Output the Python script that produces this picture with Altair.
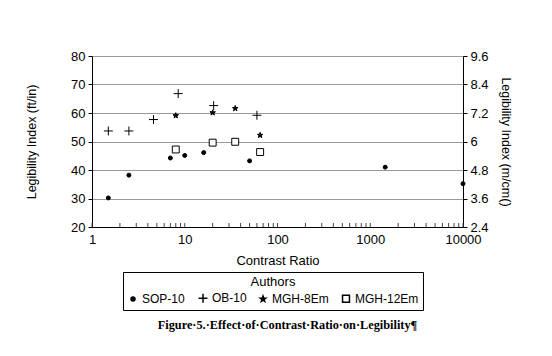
import altair as alt
import pandas as pd

# ---- data ----
sop_x = [1.5, 2.5, 7, 10, 16, 50, 1450, 10000]
sop_y = [30.2, 38.2, 44.2, 45.1, 46.1, 43.2, 41.0, 35.2]

ob_x = [1.5, 2.5, 4.6, 8.5, 20.5, 60]
ob_y = [53.7, 53.7, 57.7, 66.8, 62.6, 59.2]

m8_x = [8, 20, 35, 65]
m8_y = [59.1, 60.1, 61.6, 52.2]

m12_x = [8, 20, 35, 65]
m12_y = [47.2, 49.6, 49.9, 46.3]

authors = ["SOP-10", "OB-10", "MGH-8Em", "MGH-12Em"]
left_ticks = [20, 30, 40, 50, 60, 70, 80]
metric_factor = 0.12  # right axis: 20 -> 2.4 ... 80 -> 9.6
x_labels = [1, 10, 100, 1000, 10000]
minor_ticks = [m * d for d in [1, 10, 100, 1000] for m in range(1, 10)] + [10000]

rows = []
for name, xs, ys in [("SOP-10", sop_x, sop_y), ("OB-10", ob_x, ob_y),
                     ("MGH-8Em", m8_x, m8_y), ("MGH-12Em", m12_x, m12_y)]:
    for a, b in zip(xs, ys):
        rows.append({"Authors": name, "ratio": a, "li": b})
df = pd.DataFrame(rows)
ticks_df = pd.DataFrame({"t": minor_ticks})
right_df = pd.DataFrame({"t": [1, 10000], "li": [20, 80]})

W, H = 371, 171
FONT = "Liberation Sans"

xscale = alt.Scale(type="log", domain=[1, 10000], nice=False)
yscale = alt.Scale(domain=[20, 80], nice=False, zero=False)
xaxis = alt.Axis(values=x_labels, format="d", title="Contrast Ratio", orient="bottom",
                 tickSize=0, labelPadding=6, titlePadding=8,
                 labelFontSize=13, titleFontSize=13, titleFontWeight="normal",
                 labelFont=FONT, titleFont=FONT, labelColor="black", titleColor="black",
                 domainColor="black", grid=False, labelFlush=False)

plus_path = "M-1,0H1M0,-1V1"
star_path = ("M0,-1L0.235,-0.324L0.951,-0.309L0.38,0.124L0.588,0.809L0,0.4"
             "L-0.588,0.809L-0.38,0.124L-0.951,-0.309L-0.235,-0.324Z")

points = alt.Chart(df).mark_point(filled=False, color="black", strokeWidth=1, opacity=1).encode(
    x=alt.X("ratio:Q", scale=xscale, axis=xaxis),
    y=alt.Y("li:Q", scale=yscale,
            axis=alt.Axis(values=left_ticks, title="Legibility Index (ft/in)", orient="left",
                          tickSize=4, tickColor="black", labelPadding=3, titlePadding=32,
                          labelFontSize=13, titleFontSize=12.5, titleFontWeight="normal",
                          labelFont=FONT, titleFont=FONT, labelColor="black", titleColor="black",
                          domainColor="black", grid=True, gridColor="#9a9a9a", gridWidth=1)),
    shape=alt.Shape("Authors:N",
                    scale=alt.Scale(domain=authors, range=["circle", plus_path, star_path, "square"]),
                    legend=alt.Legend(title="Authors", orient="none", legendX=31, legendY=216,
                                      direction="horizontal", columns=4, titleAnchor="middle",
                                      strokeColor="black", padding=4, columnPadding=10,
                                      labelFontSize=12, titleFontSize=13, titleFontWeight="normal",
                                      labelFont=FONT, titleFont=FONT, labelColor="black",
                                      titleColor="black", labelOffset=3, titlePadding=3,
                                      fillColor="white")),
    fill=alt.Fill("Authors:N",
                  scale=alt.Scale(domain=authors, range=["black", "transparent", "black", "white"])),
    size=alt.Size("Authors:N",
                  scale=alt.Scale(type="ordinal", domain=authors, range=[16, 80, 34, 48])),
)

right = alt.Chart(right_df).mark_point(opacity=0).encode(
    x=alt.X("t:Q", scale=xscale, axis=xaxis),
    y=alt.Y("li:Q", scale=yscale,
            axis=alt.Axis(orient="right", values=left_ticks,
                          labelExpr=f"format(datum.value * {metric_factor}, '.1~f')",
                          title="Legibility Index (m/cm()", titleAngle=90,
                          tickSize=4, tickColor="black", labelPadding=3, titlePadding=10,
                          labelFontSize=13, titleFontSize=12.5, titleFontWeight="normal",
                          labelFont=FONT, titleFont=FONT, labelColor="black", titleColor="black",
                          domainColor="black", grid=False)),
)

minor = alt.Chart(ticks_df).mark_rule(color="#444", strokeWidth=1).encode(
    x=alt.X("t:Q", scale=xscale, axis=xaxis),
    y=alt.value(H),
    y2=alt.value(H - 4),
)

chart = alt.layer(points, right, minor).resolve_axis(y="independent").properties(
    width=W, height=H,
    autosize=alt.AutoSizeParams(type="none"),
    padding={"left": 84, "top": 48, "right": 80, "bottom": 120},
    title=alt.TitleParams("Figure·5.·Effect·of·Contrast·Ratio·on·Legibility¶",
                          orient="bottom", offset=8, dx=10, font="Liberation Serif",
                          fontSize=12.3, fontWeight="bold", color="black"),
).configure_view(stroke="black", strokeWidth=1).configure(background="white")

chart.save("out.html", embed_options={"renderer": "svg", "actions": False})
